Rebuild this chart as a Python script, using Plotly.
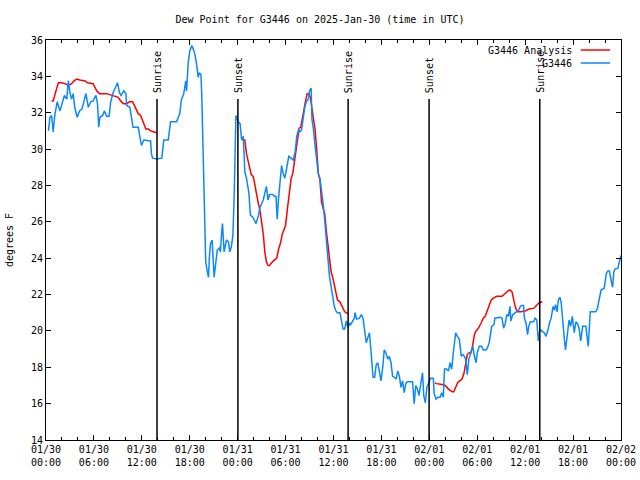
import pandas as pd
import plotly.graph_objects as go

BASE = pd.Timestamp("2025-01-30 00:00")

# Observations (hours since 01/30 00:00 UTC, dew point F)
obs_hours = [0.3, 0.5, 0.7, 0.9, 1.1, 1.4, 1.75, 1.95, 2.3, 2.6, 2.8, 3.0, 3.2, 3.4, 3.6, 3.9, 4.2, 4.5, 4.75, 5.0,
             5.3, 5.6, 5.9, 6.25, 6.45, 6.6, 6.75, 7.1, 7.3, 7.6, 7.9, 8.1, 8.4, 8.75, 8.95, 9.2, 9.4, 9.6, 9.75, 10.0,
             10.1, 10.5, 10.9, 11.55, 11.75, 11.95, 12.25, 12.8, 13.1, 13.2, 13.35, 13.85, 14.5, 14.75, 15.3, 15.6,
             16.35, 16.75, 16.95, 17.25, 17.5, 17.6, 17.8, 18.0, 18.25, 18.45, 18.65, 18.85, 19.05, 19.2, 19.4, 19.5,
             19.7, 19.9, 20.0, 20.2, 20.35, 20.45, 20.6, 20.8, 20.95, 21.05, 21.3, 21.45, 21.7, 21.85, 22.0, 22.1,
             22.3, 22.45, 22.6, 22.85, 23.0, 23.2, 23.4, 23.55, 23.7, 23.78, 24.07, 24.3, 24.5, 24.7, 24.9, 25.1,
             25.4, 25.6, 25.9, 26.3, 26.6, 26.8, 27.2, 27.6, 27.8, 28.0, 28.4, 28.6, 28.8, 28.95, 29.1, 29.3, 29.5,
             29.7, 29.9, 30.1, 30.4, 30.7, 30.95, 31.2, 31.4, 31.6, 31.8, 32.0, 32.2, 32.4, 32.6, 32.85, 33.0, 33.2,
             33.3, 33.5, 33.7, 33.9, 34.1, 34.3, 34.5, 34.7, 34.9, 35.1, 35.3, 35.5, 35.7, 35.9, 36.1, 36.3, 36.5,
             36.8, 37.0, 37.2, 37.4, 37.6, 37.8, 38.0, 38.1, 38.4, 38.6, 38.7, 38.9, 39.25, 39.5, 39.7, 39.9, 40.1,
             40.35, 40.5, 40.75, 40.95, 41.15, 41.35, 41.55, 41.75, 41.95, 42.2, 42.35, 42.55, 42.8, 43.0, 43.2,
             43.4, 43.65, 43.85, 44.05, 44.25, 44.45, 44.65, 44.85, 45.05, 45.25, 45.9, 46.1, 46.3, 46.5, 46.7,
             46.9, 47.15, 47.3, 47.5, 47.7, 48.0, 48.15, 48.5, 48.6, 48.85, 49.1, 49.35, 49.55, 49.75, 49.9, 50.15,
             50.4, 50.6, 50.8, 51.0, 51.15, 51.3, 51.5, 51.75, 52.0, 52.2, 52.4, 52.55, 52.75, 52.95, 53.2, 53.45,
             53.6, 53.85, 54.0, 54.25, 54.55, 54.75, 55.1, 55.25, 55.5, 55.8, 56.1, 56.2, 56.9, 57.1, 57.3, 57.5,
             57.7, 57.9, 58.1, 58.2, 58.45, 58.75, 58.95, 59.2, 59.4, 59.6, 59.8, 59.9, 60.1, 60.3, 60.45, 60.65,
             61.05, 61.25, 61.45, 61.65, 61.8, 61.95, 62.2, 62.4, 62.6, 62.8, 63.05, 63.25, 63.5, 63.65, 63.8, 64.0,
             64.15, 64.35, 64.5, 64.75, 64.95, 65.05, 65.3, 65.5, 65.7, 65.9, 66.15, 66.35, 66.55, 66.75, 66.95,
             67.2, 67.6, 67.8, 67.9, 68.15, 68.85, 69.05, 69.3, 69.5, 69.9, 70.15, 70.35, 70.55, 70.75, 70.95, 71.1,
             71.25, 71.6, 71.85, 72.0]
obs_values = [31.0, 31.75, 31.85, 30.95, 31.85, 32.6, 32.1, 32.4, 32.95, 32.75, 33.75, 33.1, 32.75, 33.05, 32.3, 31.75,
              32.1, 32.2, 32.65, 33.05, 32.3, 32.6, 32.65, 32.95, 32.5, 31.2, 31.75, 31.85, 32.1, 31.8, 31.8, 32.6,
              33.1, 33.5, 33.65, 33.1, 32.95, 33.1, 33.2, 33.05, 32.4, 32.3, 31.2, 31.2, 30.7, 30.2, 30.5, 30.45,
              30.45, 29.75, 29.5, 29.45, 29.5, 30.5, 30.5, 31.5, 31.5, 31.95, 32.7, 33.05, 33.75, 33.2, 34.7, 35.4,
              35.7, 35.5, 35.2, 34.7, 33.95, 34.2, 34.1, 33.05, 29.2, 26.0, 23.8, 23.25, 22.95, 24.0, 24.8, 25.0,
              23.55, 22.95, 23.9, 24.45, 24.55, 24.35, 25.45, 25.9, 24.35, 24.8, 25.0, 24.9, 24.35, 24.6, 25.25,
              27.2, 30.2, 31.85, 31.5, 31.4, 30.5, 30.7, 28.75, 28.4, 27.6, 26.35, 26.25, 25.9, 26.35, 26.8, 27.2,
              27.95, 27.2, 27.5, 27.5, 27.4, 27.4, 26.15, 27.2, 28.2, 29.1, 28.65, 28.4, 28.85, 29.6, 29.5, 29.4,
              29.85, 30.7, 31.05, 30.95, 31.05, 31.75, 32.3, 32.6, 32.75, 33.2, 33.35, 31.65, 31.05, 30.15, 29.3,
              28.65, 28.4, 27.75, 27.0, 26.1, 24.8, 24.0, 23.0, 22.45, 22.0, 21.35, 21.1, 21.0, 21.0, 20.55, 20.1,
              20.1, 20.55, 20.2, 20.45, 20.3, 20.55, 20.7, 21.0, 20.65, 20.7, 20.9, 20.7, 19.9, 19.35, 19.7, 19.9,
              18.6, 17.45, 17.45, 18.15, 18.25, 17.7, 17.25, 18.15, 18.95, 18.8, 18.45, 18.6, 18.25, 17.5, 17.45,
              17.35, 17.8, 17.5, 16.9, 17.25, 16.6, 17.1, 17.2, 17.2, 16.0, 17.0, 16.8, 16.45, 17.15, 17.7, 16.45,
              16.05, 16.9, 17.25, 17.4, 17.4, 16.55, 16.25, 16.35, 16.35, 16.6, 16.35, 17.9, 17.9, 17.8, 18.25,
              17.9, 18.8, 19.35, 19.9, 19.7, 19.55, 18.6, 18.7, 18.6, 18.45, 17.6, 18.45, 18.8, 19.15, 18.7, 18.25,
              18.8, 19.15, 19.15, 18.95, 18.95, 19.05, 19.35, 20.25, 20.35, 20.7, 20.75, 20.7, 20.15, 20.4, 20.9,
              20.8, 21.35, 20.55, 20.9, 21.0, 21.05, 21.15, 21.35, 21.4, 21.4, 20.7, 20.45, 19.8, 20.25, 20.5, 20.5,
              20.7, 20.6, 19.45, 19.95, 20.05, 19.95, 19.9, 19.7, 19.95, 20.45, 20.7, 21.35, 21.15, 21.45, 21.05,
              21.7, 21.85, 21.6, 20.05, 19.35, 18.95, 20.05, 20.6, 20.25, 20.8, 19.9, 20.5, 20.4, 20.15, 19.45,
              20.25, 20.25, 19.45, 19.15, 21.05, 21.05, 21.25, 21.95, 22.25, 22.35, 23.15, 23.3, 23.3, 22.8, 22.4,
              23.25, 23.4, 23.45, 24.0, 24.15]

# Analysis (None = gap between segments)
ana_hours = [0.7, 0.9, 1.25, 1.55, 1.95, 2.4, 2.8, 3.2, 3.5, 3.85, 4.25, 4.9, 5.2, 5.6, 5.9, 6.35, 6.7, 7.6, 8.0,
             8.65, 9.05, 9.35, 9.7, 10.1, 10.45, 10.85, 11.15, 11.55, 11.85, 12.2, 12.5, 12.8, 13.1, 13.45, 13.85,
             None,
             24.6, 24.9, 25.1, 25.3, 25.5, 25.7, 25.95, 26.15, 26.35, 26.55, 26.8, 27.0, 27.2, 27.4, 27.6, 27.8,
             28.0, 28.35, 28.6, 28.9, 29.1, 29.4, 29.6, 29.8, 30.0, 30.2, 30.35, 30.5, 30.7, 30.9, 31.1, 31.3,
             31.5, 31.7, 31.9, 32.1, 32.3, 32.5, 32.7, 32.9, 33.1, 33.3, 33.5, 33.7, 33.9, 34.1, 34.3, 34.5, 34.7,
             34.9, 35.1, 35.3, 35.5, 35.7, 35.9, 36.1, 36.3, 36.5, 36.8, 37.1, 37.4, 37.8,
             None,
             48.7, 48.9, 49.6, 50.0, 50.4, 50.85, 51.05, 51.25, 51.55, 51.8, 52.1, 52.35, 52.55, 52.75, 53.0,
             53.2, 53.4, 53.65, 53.85, 54.15, 54.5, 54.75, 55.0, 55.3, 55.5, 55.75, 56.0, 56.45, 57.1, 57.3, 57.6,
             57.85, 58.1, 58.35, 58.55, 58.75, 59.0, 59.4, 60.0, 60.5, 61.1, 61.3, 61.75, 62.15]
ana_values = [32.65, 32.65, 33.2, 33.65, 33.65, 33.6, 33.5, 33.6, 33.75, 33.85, 33.8, 33.75, 33.65, 33.6, 33.6, 33.2,
              33.05, 33.05, 33.0, 32.9, 32.85, 32.65, 32.5, 32.5, 32.6, 32.6, 32.3, 31.95, 31.85, 31.5, 31.1, 31.1,
              31.0, 30.95, 30.9,
              None,
              30.5, 30.5, 29.75, 29.4, 29.05, 28.6, 28.5, 27.95, 27.6, 27.1, 26.6, 26.05, 25.35, 24.35, 23.8, 23.6,
              23.6, 23.8, 23.9, 24.0, 24.45, 24.9, 25.35, 25.55, 25.8, 26.6, 27.1, 27.75, 28.4, 28.65, 29.3, 29.95,
              30.7, 31.15, 31.2, 31.75, 32.15, 32.65, 33.05, 33.05, 32.85, 32.3, 31.6, 31.05, 29.95, 28.65, 28.3,
              27.1, 26.75, 26.45, 25.5, 24.8, 24.05, 23.25, 22.95, 22.5, 22.1, 21.7, 21.6, 21.35, 21.05, 20.95,
              None,
              17.15, 17.1, 17.05, 17.0, 16.8, 16.65, 16.65, 16.9, 17.15, 17.25, 17.35, 17.7, 18.25, 18.7, 18.8,
              18.8, 19.15, 19.8, 20.0, 20.15, 20.45, 20.7, 20.8, 21.15, 21.45, 21.7, 21.8, 21.9, 21.9, 22.0, 22.1,
              22.2, 22.25, 22.15, 21.7, 21.35, 21.05, 21.05, 21.1, 21.2, 21.25, 21.35, 21.55, 21.6]

# Sun events (hours since 01/30 00:00 UTC)
event_hours = [13.9, 24.03, 37.83, 47.97, 61.83]
event_labels = ["Sunrise", "Sunset", "Sunrise", "Sunset", "Sunrise"]
event_top = 32.75

Y_MIN, Y_MAX = 14, 36
X_START_H, X_END_H = 0, 72

TITLE = "Dew Point for G3446 on 2025-Jan-30 (time in UTC)"
Y_TITLE = "degrees F"
LEG_NAMES = ["G3446 Analysis", "G3446"]

RED = "#ff0000"
BLUE = "#0a88ff"
FONT = "DejaVu Sans Mono"


def to_time(hs):
    return [None if h is None else BASE + pd.Timedelta(hours=h) for h in hs]


fig = go.Figure()
fig.add_trace(go.Scatter(x=to_time(ana_hours), y=ana_values, mode="lines", name=LEG_NAMES[0],
                         line=dict(color=RED, width=1.5), connectgaps=False, showlegend=False))
fig.add_trace(go.Scatter(x=to_time(obs_hours), y=obs_values, mode="lines", name=LEG_NAMES[1],
                         line=dict(color=BLUE, width=1.5), showlegend=False))

for h, lab in zip(event_hours, event_labels):
    t = BASE + pd.Timedelta(hours=h)
    fig.add_shape(type="line", x0=t, x1=t, y0=Y_MIN, y1=event_top, xref="x", yref="y",
                  line=dict(color="black", width=1.5))
    fig.add_annotation(x=t, y=event_top, xref="x", yref="y", text=lab, textangle=-90,
                       showarrow=False, yanchor="bottom", xanchor="center", yshift=4,
                       font=dict(family=FONT, size=10, color="black"))

# Legend (text, then line sample on its right), top-right inside plot
for i, (nm, col) in enumerate(zip(LEG_NAMES, [RED, BLUE])):
    ypix = 0.975 - i * 0.0325
    fig.add_annotation(x=0.918, y=ypix, xref="paper", yref="paper", text=nm, showarrow=False,
                       xanchor="right", yanchor="middle", font=dict(family=FONT, size=10, color="black"))
    fig.add_shape(type="line", x0=0.930, x1=0.981, y0=ypix, y1=ypix, xref="paper", yref="paper",
                  line=dict(color=col, width=1.5))

axis_common = dict(showline=True, linecolor="black", linewidth=1, mirror="allticks", ticks="inside",
                   tickcolor="black", showgrid=False, zeroline=False, automargin=False,
                   tickfont=dict(family=FONT, size=10, color="black"))

fig.update_xaxes(range=[BASE + pd.Timedelta(hours=X_START_H), BASE + pd.Timedelta(hours=X_END_H)],
                 dtick=6 * 3600 * 1000, tick0=BASE, tickformat="%m/%d<br>%H:%M", ticklen=5,
                 minor=dict(dtick=2 * 3600 * 1000, tick0=BASE, ticks="inside", ticklen=3, tickcolor="black",
                            showgrid=False),
                 **axis_common)
fig.update_yaxes(range=[Y_MIN, Y_MAX], dtick=2, ticklen=5,
                 title=dict(text=Y_TITLE, font=dict(family=FONT, size=10, color="black"), standoff=15),
                 **axis_common)

fig.update_layout(
    width=640, height=480,
    margin=dict(l=46, r=19, t=40, b=40),
    paper_bgcolor="white", plot_bgcolor="white",
    title=dict(text=TITLE, x=0.5, xanchor="center", y=0.96, yanchor="middle",
               font=dict(family=FONT, size=10, color="black")),
    showlegend=False,
)

fig.write_html("out.html", config={"displayModeBar": False},
               post_script="document.body.style.margin='0';document.body.style.overflow='hidden';")
